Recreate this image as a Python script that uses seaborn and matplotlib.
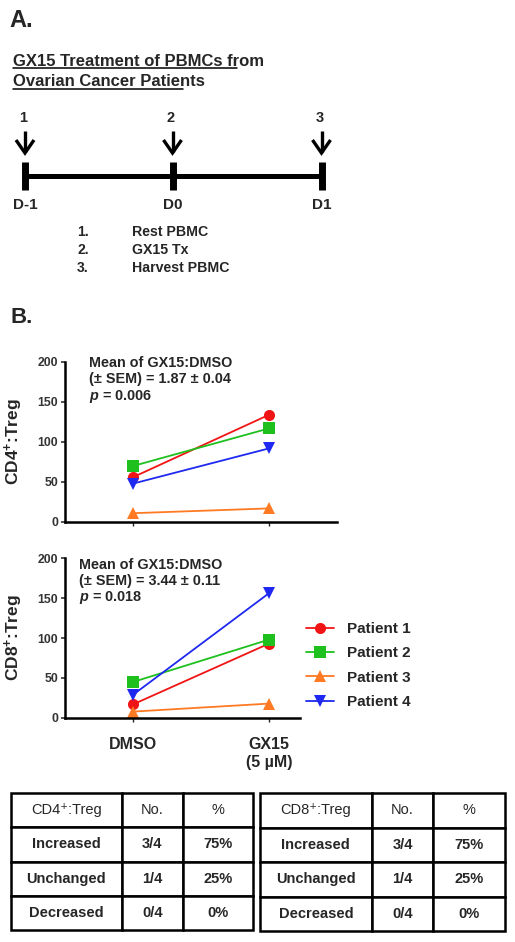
import numpy as np
import pandas as pd
import matplotlib
matplotlib.use("Agg")
import matplotlib.pyplot as plt
import seaborn as sns

# ---------------- data ----------------
patients = ["Patient 1", "Patient 2", "Patient 3", "Patient 4"]
conditions = ["DMSO", "GX15\n(5 µM)"]
cd4_dmso = [56, 70, 11, 48]
cd4_gx15 = [134, 117, 17, 92]
cd8_dmso = [17, 45, 8, 29]
cd8_gx15 = [93, 98, 18, 156]
colors = ["#f01414", "#1ec01e", "#ff7a22", "#1f28f0"]
markers = ["o", "s", "^", "v"]
yticks = [0, 50, 100, 150, 200]

cd4_note = "Mean of GX15:DMSO\n(± SEM) = 1.87 ± 0.04\n$p$ = 0.006"
cd8_note = "Mean of GX15:DMSO\n(± SEM) = 3.44 ± 0.11\n$p$ = 0.018"

table_rows = ["Increased", "Unchanged", "Decreased"]
table_no = ["3/4", "1/4", "0/4"]
table_pct = ["75%", "25%", "0%"]

steps = ["Rest PBMC", "GX15 Tx", "Harvest PBMC"]
days = ["D-1", "D0", "D1"]

# ---------------- style ----------------
sns.set_theme(style="white")
plt.rcParams["font.family"] = ["Liberation Sans", "DejaVu Sans"]
plt.rcParams["font.weight"] = "bold"
plt.rcParams["mathtext.fontset"] = "custom"
plt.rcParams["mathtext.rm"] = "Liberation Sans:bold"
plt.rcParams["mathtext.it"] = "Liberation Sans:italic:bold"
plt.rcParams["mathtext.bf"] = "Liberation Sans:bold"

W, H = 515, 942
fig = plt.figure(figsize=(W / 100, H / 100), dpi=100)

# overlay axes in pixel coordinates for panel A and labels
ov = fig.add_axes([0, 0, 1, 1])
ov.set_xlim(0, W)
ov.set_ylim(H, 0)
ov.axis("off")
ov.patch.set_alpha(0)

ov.text(9, 27, "A.", fontsize=17, fontweight="bold", va="baseline")
ov.text(10, 323, "B.", fontsize=16, fontweight="bold", va="baseline")

ov.text(13, 65.5, "GX15 Treatment of PBMCs from", fontsize=12, fontweight="bold", va="baseline")
ov.text(13, 86.5, "Ovarian Cancer Patients", fontsize=12, fontweight="bold", va="baseline")
ov.plot([13, 237], [68, 68], color="black", lw=1.1)
ov.plot([13, 183], [89, 89], color="black", lw=1.1)

# timeline
tx = [25, 172.5, 321.5]
ov.plot([tx[0], tx[-1]], [175.5, 175.5], color="black", lw=3.6, solid_capstyle="butt")
for i, x in enumerate(tx):
    ov.plot([x, x], [162, 190], color="black", lw=5, solid_capstyle="butt")
    ov.text(x - 2, 121.5, str(i + 1), fontsize=10.5, fontweight="bold", ha="center", va="baseline")
    ov.plot([x, x], [131, 152], color="black", lw=2.4, solid_capstyle="butt")
    ov.plot([x - 9, x, x + 9], [140, 153, 140], color="black", lw=2.4,
            solid_joinstyle="miter", solid_capstyle="butt")
    ov.text(x, 209, days[i], fontsize=11, fontweight="bold", ha="center", va="baseline")
for i, s in enumerate(steps):
    yb = [236, 253.5, 271.5][i]
    ov.text(77, yb, f"{i + 1}.", fontsize=10, fontweight="bold", va="baseline")
    ov.text(131.5, yb, s, fontsize=10.2, fontweight="bold", va="baseline")

# ---------------- panel B ----------------
def make_df(d, g):
    rows = []
    for p, a, b in zip(patients, d, g):
        rows.append({"patient": p, "x": 0, "val": a})
        rows.append({"patient": p, "x": 1, "val": b})
    return pd.DataFrame(rows)

def px_axes(left, top, right, bottom):
    return fig.add_axes([left / W, 1 - bottom / H, (right - left) / W, (bottom - top) / H])

ax1 = px_axes(65, 362, 337, 522)
ax2 = px_axes(65, 558, 300, 718)

pal = dict(zip(patients, colors))
mk = dict(zip(patients, markers))

for ax, d, g, note, xr, ylab, legend in [
    (ax1, cd4_dmso, cd4_gx15, cd4_note, 1.5, r"CD4$^{+}$:Treg", False),
    (ax2, cd8_dmso, cd8_gx15, cd8_note, 1.228, r"CD8$^{+}$:Treg", True),
]:
    df = make_df(d, g)
    sns.lineplot(data=df, x="x", y="val", hue="patient", style="patient",
                 palette=pal, markers=mk, dashes=False, ax=ax, legend=legend,
                 linewidth=1.3, markersize=8, markeredgewidth=0, clip_on=False)
    ax.set_xlim(-0.5, xr)
    ax.set_ylim(0, 200)
    ax.set_yticks(yticks)
    ax.set_yticklabels([str(t) for t in yticks], fontsize=8.8, fontweight="bold", color="#333333")
    ax.set_xticks([0, 1])
    ax.tick_params(axis="y", direction="out", length=3, width=1.2, pad=2, left=True, colors="#333333")
    ax.tick_params(axis="x", direction="out", length=3, width=1.0, bottom=True, pad=11)
    for s in ["top", "right"]:
        ax.spines[s].set_visible(False)
    for s in ["left", "bottom"]:
        ax.spines[s].set_linewidth(1.8)
        ax.spines[s].set_color("black")
    ax.set_xlabel("")
    ax.set_ylabel(ylab, fontsize=12.5, fontweight="bold")
    ax.patch.set_alpha(0)

ax1.set_xticklabels(["", ""])
ax2.set_xticklabels(conditions, fontsize=11.5, fontweight="bold")
ax1.yaxis.set_label_coords((25 - 65) / 272, 0.5)
ax2.yaxis.set_label_coords((25 - 65) / 235, 0.5)

ax1.text((89 - 65) / 272, 1.035, cd4_note, transform=ax1.transAxes, fontsize=10.4,
         fontweight="bold", va="top", ha="left", linespacing=1.15)
ax2.text((79 - 65) / 235, 1.0, cd8_note, transform=ax2.transAxes, fontsize=10.4,
         fontweight="bold", va="top", ha="left", linespacing=1.15)

handles, labels = ax2.get_legend_handles_labels()
ax2.get_legend().remove()
fig.legend(handles, labels, loc="upper left",
           bbox_to_anchor=(306 / W, 1 - 622 / H), frameon=False,
           prop={"size": 11, "weight": "bold"}, handlelength=1.8, handletextpad=0.9,
           labelspacing=0.68, borderpad=0, borderaxespad=0)

# ---------------- tables ----------------
def draw_table(left, right, top, bottom, colw, header):
    tax = px_axes(left, top, right, bottom)
    tax.axis("off")
    cells = [[header, "No.", "%"]] + [[r, n, p] for r, n, p in zip(table_rows, table_no, table_pct)]
    tot = sum(colw)
    tbl = tax.table(cellText=cells, bbox=[0, 0, 1, 1], colWidths=[c / tot for c in colw],
                    cellLoc="center")
    tbl.auto_set_font_size(False)
    for (r, c), cell in tbl.get_celld().items():
        cell.set_linewidth(1.8)
        cell.set_edgecolor("black")
        cell.get_text().set_fontsize(10.5)
        cell.get_text().set_fontweight("normal" if r == 0 else "bold")
    return tax

draw_table(11, 253, 793, 930, [110.7, 61, 70.3], "CD4⁺:Treg")
draw_table(260, 505, 793, 931, [111.7, 61.6, 71.7], "CD8⁺:Treg")

fig.savefig("out.png", dpi=100)
